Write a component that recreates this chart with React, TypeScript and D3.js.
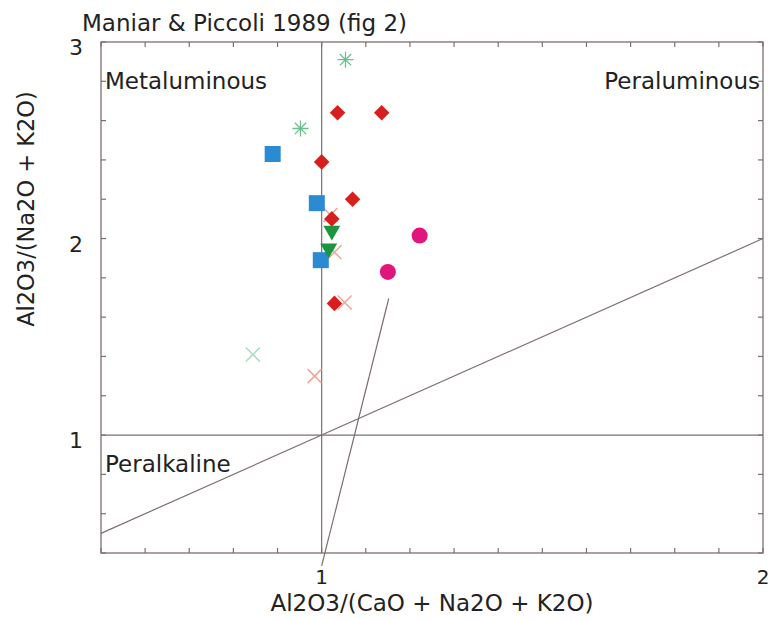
import React from 'react'
import * as d3 from 'd3'

// values, [A/CNK, A/NK]
const diamondPts: [number, number][] = [
  [1.036, 2.64], [1.136, 2.64], [1.0, 2.39], [1.07, 2.2], [1.023, 2.1], [1.029, 1.67],
]
const squarePts: [number, number][] = [[0.889, 2.43], [0.989, 2.18], [0.998, 1.89]]
const trianglePts: [number, number][] = [[1.023, 2.04], [1.016, 1.95]]
const circlePts: [number, number][] = [[1.222, 2.015], [1.15, 1.83]]
const asteriskPts: [number, number][] = [[1.054, 2.91], [0.952, 2.56]]
const greenCrossPts: [number, number][] = [[0.844, 1.41]]
const redCrossPts: [number, number][] = [[1.029, 1.93], [1.052, 1.675], [0.984, 1.3], [1.02, 2.12]]
const pointerLine: [number, number][] = [[1.0, 0.335], [1.152, 1.695]]

const xTicks = d3.range(0.5, 2.001, 0.1)
const yTicks = d3.range(0.4, 3.001, 0.2)
const xLabels = [1, 2]
const yLabels = [1, 2, 3]

const W = 773
const H = 620
const x = d3.scaleLinear().domain([0.5, 2]).range([101, 763])
const y = d3.scaleLinear().domain([0.4, 3]).range([553, 42])

const lineCol = '#7d6f6f'
const font = 'DejaVu Sans, sans-serif'

const App = () => {
  const [x0, x1] = x.range()
  const [y0, y1] = y.range()
  const line = d3.line<[number, number]>().x(d => x(d[0])).y(d => y(d[1]))
  const sq = d3.symbol().type(d3.symbolSquare)
  const tri = d3.symbol().type(d3.symbolTriangle).size(125)

  const star = (r: number) => {
    let p = ''
    for (let i = 0; i < 4; i++) {
      const a = (i * Math.PI) / 4
      const dx = r * Math.cos(a), dy = r * Math.sin(a)
      p += `M${-dx},${-dy}L${dx},${dy}`
    }
    return p
  }
  const cross = (r: number) => `M${-r},${-r}L${r},${r}M${-r},${r}L${r},${-r}`

  return (
    <svg width={W} height={H} style={{ position: 'absolute', left: 0, top: 0, background: '#fff' }}
      fontFamily={font}>
      <text x={82} y={31} fontSize={23} fill="#222">Maniar &amp; Piccoli 1989 (fig 2)</text>

      {/* frame */}
      <rect x={x0} y={y1} width={x1 - x0} height={y0 - y1} fill="none" stroke={lineCol} strokeWidth={1.3} />
      {xTicks.map((t, i) => (
        <g key={'xt' + i} stroke={lineCol} strokeWidth={1.2}>
          <line x1={x(t)} x2={x(t)} y1={y0} y2={y0 - 5} />
          <line x1={x(t)} x2={x(t)} y1={y1} y2={y1 + 5} />
        </g>
      ))}
      {yTicks.map((t, i) => (
        <g key={'yt' + i} stroke={lineCol} strokeWidth={1.2}>
          <line x1={x0} x2={x0 + 5} y1={y(t)} y2={y(t)} />
          <line x1={x1} x2={x1 - 5} y1={y(t)} y2={y(t)} />
        </g>
      ))}

      {/* reference lines */}
      <g stroke={lineCol} strokeWidth={1.2} fill="none">
        <line x1={x(1)} x2={x(1)} y1={y0} y2={y1} />
        <line x1={x0} x2={x1} y1={y(1)} y2={y(1)} />
        <path d={line([[0.5, 0.5], [2, 2]]) || ''} />
        <path d={line(pointerLine) || ''} />
      </g>

      {xLabels.map(t => (
        <text key={'xl' + t} x={x(t)} y={584} fontSize={20} textAnchor="middle" fill="#222">{t}</text>
      ))}
      {yLabels.map(t => (
        <text key={'yl' + t} x={83} y={y(t) + 13} fontSize={22} textAnchor="end" fill="#222">{t}</text>
      ))}

      <text x={105} y={89} fontSize={23} fill="#222">Metaluminous</text>
      <text x={760} y={89} fontSize={23} fill="#222" textAnchor="end">Peraluminous</text>
      <text x={105} y={472} fontSize={23} fill="#222">Peralkaline</text>

      <text x={432} y={611} fontSize={23} textAnchor="middle" fill="#222">Al2O3/(CaO + Na2O + K2O)</text>
      <text transform={`translate(34,209) rotate(-90)`} fontSize={22.5} textAnchor="middle" fill="#222">
        Al2O3/(Na2O + K2O)
      </text>

      {/* markers */}
      {asteriskPts.map((d, i) => (
        <path key={'as' + i} transform={`translate(${x(d[0])},${y(d[1])})`} d={star(8)}
          stroke="#6cc08e" strokeWidth={1.3} fill="none" />
      ))}
      {greenCrossPts.map((d, i) => (
        <path key={'gx' + i} transform={`translate(${x(d[0])},${y(d[1])})`} d={cross(7)}
          stroke="#a9dcc0" strokeWidth={1.5} fill="none" />
      ))}
      {redCrossPts.map((d, i) => (
        <path key={'rx' + i} transform={`translate(${x(d[0])},${y(d[1])})`} d={cross(7)}
          stroke="#f0a595" strokeWidth={1.5} fill="none" />
      ))}
      {squarePts.map((d, i) => (
        <path key={'sq' + i} transform={`translate(${x(d[0])},${y(d[1])})`} d={sq.size(256)() || ''}
          fill="#2a8bd2" />
      ))}
      {diamondPts.map((d, i) => (
        <path key={'di' + i} transform={`translate(${x(d[0])},${y(d[1])}) rotate(45)`} d={sq.size(121)() || ''}
          fill="#d7201e" />
      ))}
      {trianglePts.map((d, i) => (
        <path key={'tr' + i} transform={`translate(${x(d[0])},${y(d[1])}) rotate(180)`} d={tri() || ''}
          fill="#1c963e" />
      ))}
      {circlePts.map((d, i) => (
        <circle key={'ci' + i} cx={x(d[0])} cy={y(d[1])} r={8} fill="#e1157c" />
      ))}
    </svg>
  )
}

export default App
